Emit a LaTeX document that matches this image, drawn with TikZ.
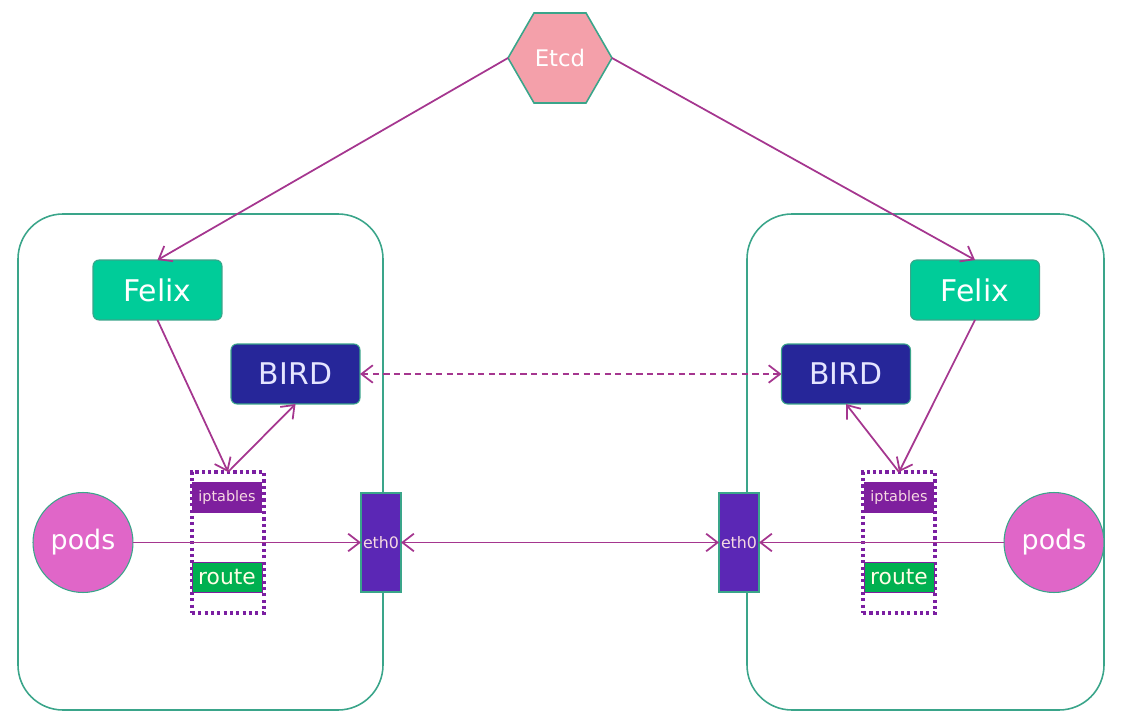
\documentclass[tikz,border=0pt]{standalone}
\usepackage{fontspec}
\setmainfont{DejaVu Sans}
\usetikzlibrary{shapes.geometric, arrows.meta}
\definecolor{hostline}{HTML}{3AA58A}
\definecolor{felixgreen}{HTML}{00CC99}
\definecolor{birdblue}{HTML}{262699}
\definecolor{linkpurple}{HTML}{A5368F}
\definecolor{tabpurple}{HTML}{7B1FA2}
\definecolor{iptpurple}{HTML}{7E1F9E}
\definecolor{routegreen}{HTML}{00B050}
\definecolor{nicpurple}{HTML}{5B27B5}
\definecolor{podpink}{HTML}{E066C8}
\definecolor{etcdpink}{HTML}{F4A0AA}
\tikzset{
    x=0.02cm, y=-0.02cm, % one unit is one pixel of the reference
    every node/.style={inner sep=0pt, outer sep=0pt},
    host/.style={ % Sets the properties for each host frame
        draw=hostline, line width=0.9pt, rounded corners=0.9cm
    },
    agent/.style={ % Felix and BIRD boxes
        draw=hostline, line width=0.6pt, rounded corners=0.12cm,
        minimum width=2.58cm, minimum height=1.2cm, font=\fontsize{17}{17}\selectfont
    },
    felix/.style={agent, fill=felixgreen, text=white},
    bird/.style={agent, fill=birdblue, text=white!90!blue},
    tables/.style={ % dotted box round iptables and route
        draw=tabpurple, line width=1.8pt, dash pattern=on 1.8pt off 1.8pt,
        minimum width=1.44cm, minimum height=2.82cm
    },
    ipt/.style={fill=iptpurple, text=white!85!purple, minimum width=1.4cm,
        minimum height=0.62cm, font=\fontsize{8.2}{8.2}\selectfont},
    route/.style={draw=iptpurple, line width=0.5pt, fill=routegreen, text=white!90!yellow,
        minimum width=1.4cm, minimum height=0.6cm, font=\fontsize{12.4}{12.4}\selectfont},
    nic/.style={draw=hostline, line width=0.6pt, fill=nicpurple, text=white!85!purple,
        minimum width=0.8cm, minimum height=1.98cm, font=\fontsize{9}{9}\selectfont},
    pod/.style={circle, draw=hostline, line width=0.6pt, fill=podpink, text=white,
        minimum size=2cm, font=\fontsize{15.3}{15.3}\selectfont},
    link/.style={ % Sets the properties for each connector
        draw=linkpurple, line width=1pt,
        -{Straight Barb[length=6.5pt, width=10pt]}
    },
    both/.style={link, {Straight Barb[length=6.5pt, width=10pt]}-{Straight Barb[length=6.5pt, width=10pt]}}
}

\begin{document}
\begin{tikzpicture}
    \useasboundingbox (0,0) rectangle (1125,719);
    % host frames
    \draw[host] (18,214) rectangle (383,710);
    \draw[host] (747,214) rectangle (1104,710);

    \node[regular polygon, regular polygon sides=6, minimum size=2.08cm, draw=hostline,
          line width=0.9pt, fill=etcdpink, text=white, font=\fontsize{13}{13}\selectfont]
          (etcd) at (560,58) {Etcd};

    % left host
    \node[felix] (felixL) at (157.5,290) {Felix};
    \node[bird] (birdL) at (295.5,374) {BIRD};
    \node[tables] (tabL) at (228,542.5) {};
    \node[ipt] (iptL) at (227,497.5) {iptables};
    \node[route] (routeL) at (227,577) {route};
    \node[nic] (ethL) at (381,542.5) {eth0};
    \node[pod] (podL) at (83,542.5) {pods};

    % right host
    \node[felix] (felixR) at (975,290) {Felix};
    \node[bird] (birdR) at (846,374) {BIRD};
    \node[tables] (tabR) at (899,542.5) {};
    \node[ipt] (iptR) at (899,497.5) {iptables};
    \node[route] (routeR) at (899,577) {route};
    \node[nic] (ethR) at (739,542.5) {eth0};
    \node[pod] (podR) at (1054,542.5) {pods};

    \draw[link] (etcd.west) -- (felixL.north);
    \draw[link] (etcd.east) -- (felixR.north);
    \draw[link] (felixL.south) -- (tabL.north);
    \draw[link] (tabL.north) -- (birdL.south);
    \draw[link] (felixR.south) -- (tabR.north);
    \draw[link] (tabR.north) -- (birdR.south);
    \draw[both, dash pattern=on 3.5pt off 2.5pt] (birdL.east) -- (birdR.west);
    \draw[link] (podL.east) -- (ethL.west);
    \draw[link] (podR.west) -- (ethR.east);
    \draw[both] (ethL.east) -- (ethR.west);
\end{tikzpicture}
\end{document}
